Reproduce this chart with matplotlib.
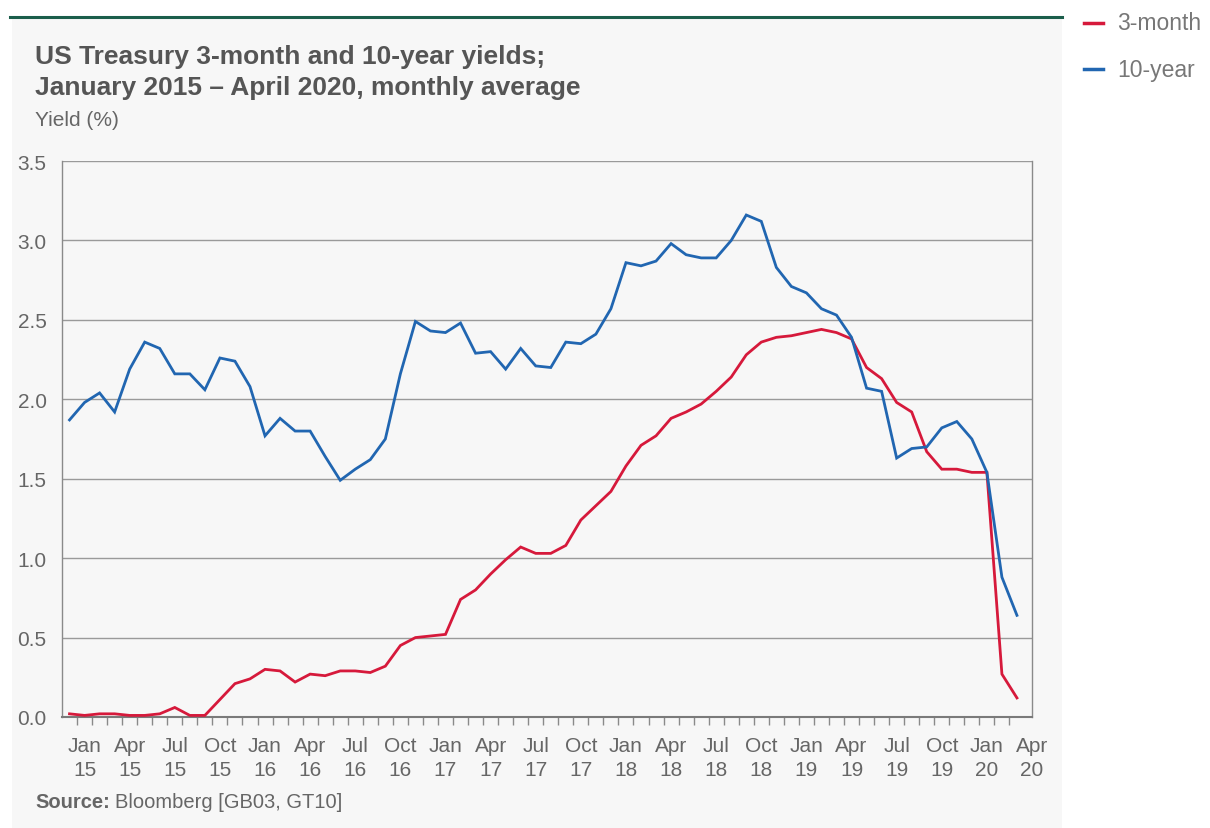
import numpy as np
import matplotlib
matplotlib.use("Agg")
import matplotlib.pyplot as plt
from matplotlib.patches import Rectangle
from matplotlib.lines import Line2D
from matplotlib.ticker import FixedLocator

# monthly averages, Jan 2015 .. Apr 2020 (64 months)
yield_3m = [0.02, 0.01, 0.02, 0.02, 0.01, 0.01, 0.02, 0.06, 0.01, 0.01,
            0.11, 0.21, 0.24, 0.30, 0.29, 0.22, 0.27, 0.26, 0.29, 0.29,
            0.28, 0.32, 0.45, 0.50, 0.51, 0.52, 0.74, 0.80, 0.90, 0.99,
            1.07, 1.03, 1.03, 1.08, 1.24, 1.33, 1.42, 1.58, 1.71, 1.77,
            1.88, 1.92, 1.97, 2.05, 2.14, 2.28, 2.36, 2.39, 2.40, 2.42,
            2.44, 2.42, 2.38, 2.20, 2.13, 1.98, 1.92, 1.67, 1.56, 1.56,
            1.54, 1.54, 0.27, 0.12]
yield_10y = [1.87, 1.98, 2.04, 1.92, 2.19, 2.36, 2.32, 2.16, 2.16, 2.06,
             2.26, 2.24, 2.08, 1.77, 1.88, 1.80, 1.80, 1.64, 1.49, 1.56,
             1.62, 1.75, 2.16, 2.49, 2.43, 2.42, 2.48, 2.29, 2.30, 2.19,
             2.32, 2.21, 2.20, 2.36, 2.35, 2.41, 2.57, 2.86, 2.84, 2.87,
             2.98, 2.91, 2.89, 2.89, 3.00, 3.16, 3.12, 2.83, 2.71, 2.67,
             2.57, 2.53, 2.39, 2.07, 2.05, 1.63, 1.69, 1.70, 1.82, 1.86,
             1.75, 1.54, 0.88, 0.64]
tick_labels = ["Jan\n15", "Apr\n15", "Jul\n15", "Oct\n15",
               "Jan\n16", "Apr\n16", "Jul\n16", "Oct\n16",
               "Jan\n17", "Apr\n17", "Jul\n17", "Oct\n17",
               "Jan\n18", "Apr\n18", "Jul\n18", "Oct\n18",
               "Jan\n19", "Apr\n19", "Jul\n19", "Oct\n19",
               "Jan\n20", "Apr\n20"]

RED = "#d6193b"
BLUE = "#2166b1"
TXT = "#666666"
PANEL = "#f7f7f7"

plt.rcParams['font.family'] = ['Liberation Sans', 'DejaVu Sans']

W, H = 1210, 829
fig = plt.figure(figsize=(W / 100, H / 100), dpi=100)
fig.patch.set_facecolor("white")

# grey panel + green rule on top
fig.patches.append(Rectangle((12 / W, 0), 1050 / W, (H - 18) / H,
                             transform=fig.transFigure, facecolor=PANEL,
                             edgecolor="none", zorder=-10))
fig.lines.append(Line2D([10 / W, 1062 / W], [(H - 18) / H] * 2,
                        transform=fig.transFigure, color="#1b5e4b", lw=2.2,
                        zorder=-5))

ax = fig.add_axes([62 / W, (H - 718) / H, (1032 - 62) / W, (718 - 162) / H])
ax.set_facecolor(PANEL)
ax.set_zorder(1)

x = np.arange(len(yield_3m))
ax.plot(x, yield_3m, color=RED, lw=2.0, solid_joinstyle="miter", zorder=3)
ax.plot(x, yield_10y, color=BLUE, lw=2.0, solid_joinstyle="miter", zorder=3)

ax.set_xlim(-0.5, len(x) - 0.5)
ax.set_ylim(0, 3.5)
ax.set_yticks(np.arange(0, 3.51, 0.5))
ax.set_yticklabels([f"{v:.1f}" for v in np.arange(0, 3.51, 0.5)])
ax.yaxis.grid(True, color="#9a9a9a", lw=1.0)
ax.set_axisbelow(True)

ax.set_xticks(np.arange(1, len(x) + 1, 3))
ax.set_xticklabels(tick_labels, linespacing=1.3)
ax.xaxis.set_minor_locator(FixedLocator(np.arange(0.5, len(x) - 0.5, 1)))
ax.tick_params(axis="x", which="major", length=0, pad=14, labelsize=15,
               labelcolor=TXT)
ax.tick_params(axis="x", which="minor", length=6, width=1, color="#8a8a8a",
               direction="out")
ax.tick_params(axis="y", length=0, pad=11, labelsize=15, labelcolor=TXT)
for lab in ax.get_xticklabels():
    lab.set_clip_on(False)

for side in ["left", "right"]:
    ax.spines[side].set_color("#8a8a8a")
    ax.spines[side].set_linewidth(1.0)
ax.spines["bottom"].set_color("#7a7a7a")
ax.spines["bottom"].set_linewidth(1.5)
ax.spines["top"].set_visible(False)

fig.text(35 / W, 1 - 57 / H, "US Treasury 3-month and 10-year yields;",
         fontsize=19, fontweight="bold", color="#555555", va="center")
fig.text(35 / W, 1 - 88 / H, "January 2015 \u2013 April 2020, monthly average",
         fontsize=19, fontweight="bold", color="#555555", va="center")
fig.text(35 / W, 1 - 120 / H, "Yield (%)", fontsize=15, color=TXT,
         va="center")

src = fig.text(35 / W, 1 - 803 / H, "Source:", fontsize=14.5, fontweight="bold",
               color=TXT, va="center")
fig.canvas.draw()
bb = src.get_window_extent()
fig.text(bb.x1 / W + 5 / W, 1 - 803 / H, "Bloomberg [GB03, GT10]",
         fontsize=14.5, color=TXT, va="center")

# legend outside on the right
for i, (lbl, col) in enumerate([("3-month", RED), ("10-year", BLUE)]):
    yy = 1 - (24 + 46 * i) / H
    fig.lines.append(Line2D([1084 / W, 1103 / W], [yy, yy],
                            transform=fig.transFigure, color=col, lw=2.5))
    fig.text(1117 / W, yy, lbl, fontsize=16.5, color="#777777", va="center")

fig.savefig("out.png", dpi=100, facecolor=fig.get_facecolor())
